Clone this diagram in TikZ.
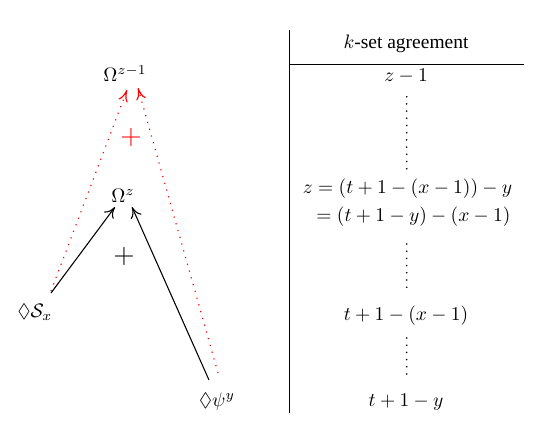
\documentclass[tikz,border=0pt]{standalone}
\usepackage{amsmath,amssymb}
\usepackage[no-math]{fontspec}
\newfontfamily\timesf{Liberation Serif}
\usetikzlibrary{arrows.meta,calc}
\tikzset{
  lbl/.style={inner sep=0pt,font=\fontsize{10}{12}\selectfont},
  blackarrow/.style={-{To[length=5.5pt,width=6pt]},line width=0.55pt,black},
  redarrow/.style={-{To[length=6pt,width=5pt]},line width=0.6pt,red,dash pattern=on 0.6pt off 3pt},
  bigplus/.style={inner sep=0pt,font=\fontsize{15}{18}\selectfont},
  rule/.style={line width=0.5pt,black}
}
\begin{document}
\begin{tikzpicture}[x=0.513pt,y=-0.513pt]
\useasboundingbox (0,0) rectangle (535,429);
% left part
\node[lbl] (om1) at (125,74) {$\Omega^{z-1}$};
\node[lbl] (oz) at (123,196) {$\Omega^{z}$};
\node[lbl] (sx) at (35,312) {$\Diamond\mathcal{S}_x$};
\node[lbl] (psi) at (217,402) {$\Diamond\psi^y$};
\node[bigplus,red] (rplus) at (131,137) {$+$};
\node[bigplus] (bplus) at (124,256) {$+$};
\draw[redarrow] ($(sx)+(16,-21)$) -- ($(om1)+(2,16)$);
\draw[redarrow] ($(psi)+(1,-29)$) -- ($(om1)+(13,14)$);
\draw[blackarrow] ($(sx)+(16,-19)$) -- ($(oz)+(-8,11)$);
\draw[blackarrow] ($(psi)+(-8,-22)$) -- ($(oz)+(9,11)$);
% right part
\coordinate (vt) at (289,30);
\coordinate (vb) at (289,413);
\coordinate (hl) at (289,64);
\coordinate (hr) at (524,64);
\draw[rule] (vt) -- (vb);
\draw[rule] (hl) -- (hr);
\node[lbl] (head) at (406,44) {$k$\timesf -set agreement};
\node[lbl] (r1) at (406,76) {$z-1$};
\node[lbl] (r2) at (407.5,189) {$z=(t+1-(x-1))-y$};
\node[lbl] (r3) at (413.5,217) {$=(t+1-y)-(x-1)$};
\node[lbl] (r4) at (406,316) {$t+1-(x-1)$};
\node[lbl] (r5) at (406,402) {$t+1-y$};
\foreach \i in {0,...,10} \fill (406.7,96.7+\i*7.2) circle[radius=0.45pt];
\foreach \i in {0,...,6} \fill (406.7,244+\i*7.2) circle[radius=0.45pt];
\foreach \i in {0,...,5} \fill (406.7,338+\i*7.2) circle[radius=0.45pt];
\end{tikzpicture}
\end{document}
